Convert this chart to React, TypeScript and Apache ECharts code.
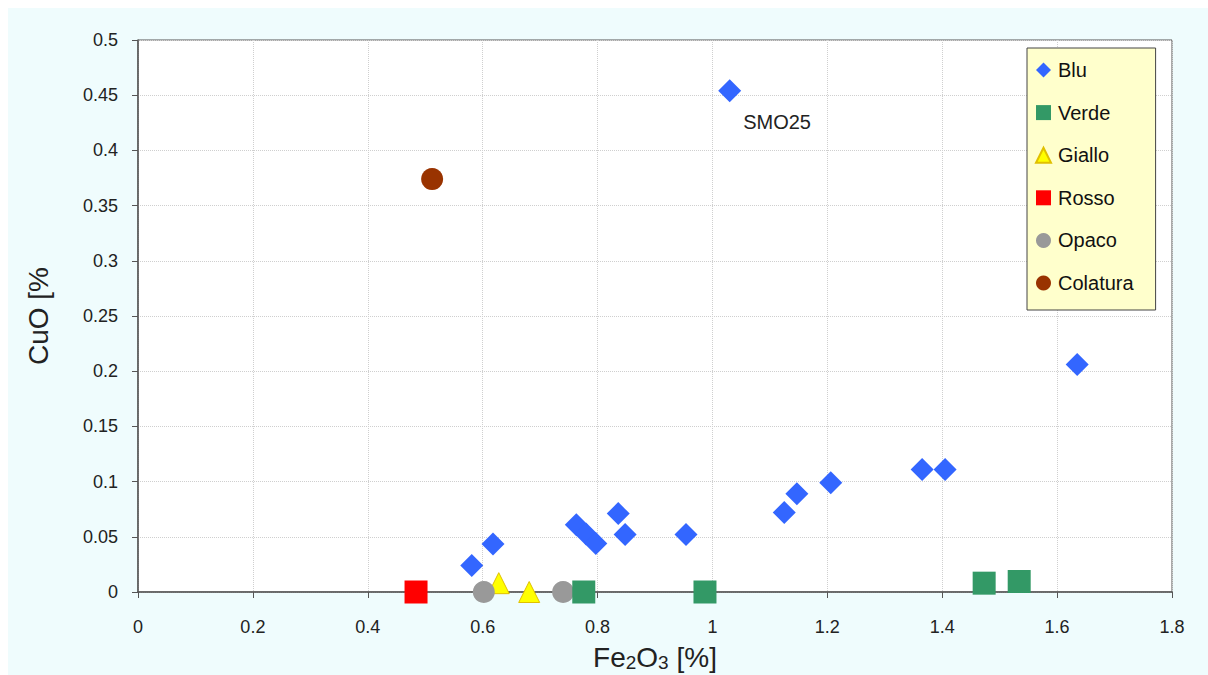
import React, { useEffect, useRef } from "react";
import * as echarts from "echarts";

const bluData: [number, number][] = [
  [1.03, 0.454], [1.635, 0.206], [1.365, 0.111], [1.405, 0.111], [1.206, 0.099],
  [1.147, 0.089], [1.125, 0.072], [0.954, 0.052], [0.848, 0.052], [0.836, 0.071],
  [0.763, 0.061], [0.78, 0.0525], [0.797, 0.044], [0.618, 0.0435], [0.581, 0.024],
];
const verdeData: [number, number][] = [[0.776, 0], [0.987, 0], [1.473, 0.008], [1.534, 0.0095]];
const gialloData: [number, number][] = [[0.628, 0.008], [0.681, 0]];
const rossoData: [number, number][] = [[0.484, 0]];
const opacoData: [number, number][] = [[0.602, 0], [0.74, 0]];
const colaturaData: [number, number][] = [[0.512, 0.374]];
const labelledPoint = "SMO25";

const FONT = "Liberation Sans";

export default function App() {
  const ref = useRef<HTMLDivElement>(null);
  useEffect(() => {
    if (!ref.current) return;
    const chart = echarts.init(ref.current, undefined, { renderer: "svg" });
    const axisText = { color: "#222", fontSize: 18, fontFamily: FONT };
    const bluSeries = bluData.map((d, i) =>
      i === 0
        ? {
            value: d,
            label: {
              show: true,
              formatter: labelledPoint,
              position: "right",
              offset: [-3, 31],
              color: "#222",
              fontSize: 20,
              fontFamily: FONT,
            },
          }
        : { value: d }
    );
    chart.setOption({
      animation: false,
      backgroundColor: "transparent",
      grid: {
        left: 138,
        right: 36,
        top: 40,
        bottom: 83,
        containLabel: false,
        outerBoundsMode: "none",
        show: true,
        backgroundColor: "#ffffff",
        borderColor: "#555",
        borderWidth: 1,
      },
      legend: {
        orient: "vertical",
        left: 1027,
        top: 48,
        padding: [12, 22, 17, 8],
        backgroundColor: "#ffffcc",
        borderColor: "#444",
        borderWidth: 1,
        itemGap: 22.6,
        itemWidth: 15,
        itemHeight: 15,
        textStyle: { color: "#111", fontSize: 20, fontFamily: FONT, padding: [0, 0, 0, 2] },
        data: [
          { name: "Blu", icon: "diamond" },
          { name: "Verde", icon: "rect" },
          { name: "Giallo", icon: "triangle" },
          { name: "Rosso", icon: "rect" },
          { name: "Opaco", icon: "circle" },
          { name: "Colatura", icon: "circle" },
        ],
      },
      xAxis: {
        type: "value",
        min: 0,
        max: 1.8,
        interval: 0.2,
        name: "{a|Fe}{s|2}{a|O}{s|3}{a| [%]}",
        nameLocation: "middle",
        nameGap: 50,
        nameTextStyle: {
          rich: {
            a: { fontSize: 28, fontFamily: FONT, color: "#222", lineHeight: 30 },
            s: { fontSize: 19, fontFamily: FONT, color: "#222", lineHeight: 30, verticalAlign: "bottom", padding: [6, 0, 0, 0] },
          },
        },
        axisLine: { lineStyle: { color: "#555", width: 1.5 } },
        axisTick: { show: true, length: 6, lineStyle: { color: "#555" } },
        axisLabel: { ...axisText, margin: 26 },
        splitLine: { show: true, lineStyle: { color: "#cfcfcf", type: "dotted" } },
      },
      yAxis: {
        type: "value",
        min: 0,
        max: 0.5,
        interval: 0.05,
        name: "CuO [%",
        nameLocation: "middle",
        nameGap: 66,
        nameTextStyle: { fontSize: 28, fontFamily: FONT, color: "#222", padding: [0, 0, 20, 0] },
        axisLine: { show: true, lineStyle: { color: "#555", width: 1.5 } },
        axisTick: { show: true, length: 6, lineStyle: { color: "#555" } },
        axisLabel: { ...axisText, margin: 20 },
        splitLine: { show: true, lineStyle: { color: "#cfcfcf", type: "dotted" } },
      },
      series: [
        {
          name: "Blu",
          type: "scatter",
          symbol: "diamond",
          symbolSize: 23,
          itemStyle: { color: "#3366ff", opacity: 1 },
          data: bluSeries,
          z: 3,
        },
        {
          name: "Verde",
          type: "scatter",
          symbol: "rect",
          symbolSize: 23,
          itemStyle: { color: "#339966", opacity: 1 },
          data: verdeData,
          z: 4,
        },
        {
          name: "Giallo",
          type: "scatter",
          symbol: "triangle",
          symbolSize: 21,
          itemStyle: { color: "#ffff00", borderColor: "#e0c000", borderWidth: 1, opacity: 1 },
          data: gialloData,
          z: 2,
        },
        {
          name: "Rosso",
          type: "scatter",
          symbol: "rect",
          symbolSize: 23,
          itemStyle: { color: "#ff0000", opacity: 1 },
          data: rossoData,
          z: 2,
        },
        {
          name: "Opaco",
          type: "scatter",
          symbol: "circle",
          symbolSize: 22,
          itemStyle: { color: "#999999", opacity: 1 },
          data: opacoData,
          z: 3,
        },
        {
          name: "Colatura",
          type: "scatter",
          symbol: "circle",
          symbolSize: 22,
          itemStyle: { color: "#993300", opacity: 1 },
          data: colaturaData,
          z: 2,
        },
      ],
    });
    return () => chart.dispose();
  }, []);
  return (
    <div style={{ position: "fixed", left: 0, top: 0, width: 1208, height: 675, background: "#ffffff" }}>
      <div style={{ position: "absolute", left: 8, top: 8, width: 1200, height: 667, background: "#effcfd" }} />
      <div ref={ref} style={{ position: "absolute", left: 0, top: 0, width: 1208, height: 675 }} />
    </div>
  );
}
